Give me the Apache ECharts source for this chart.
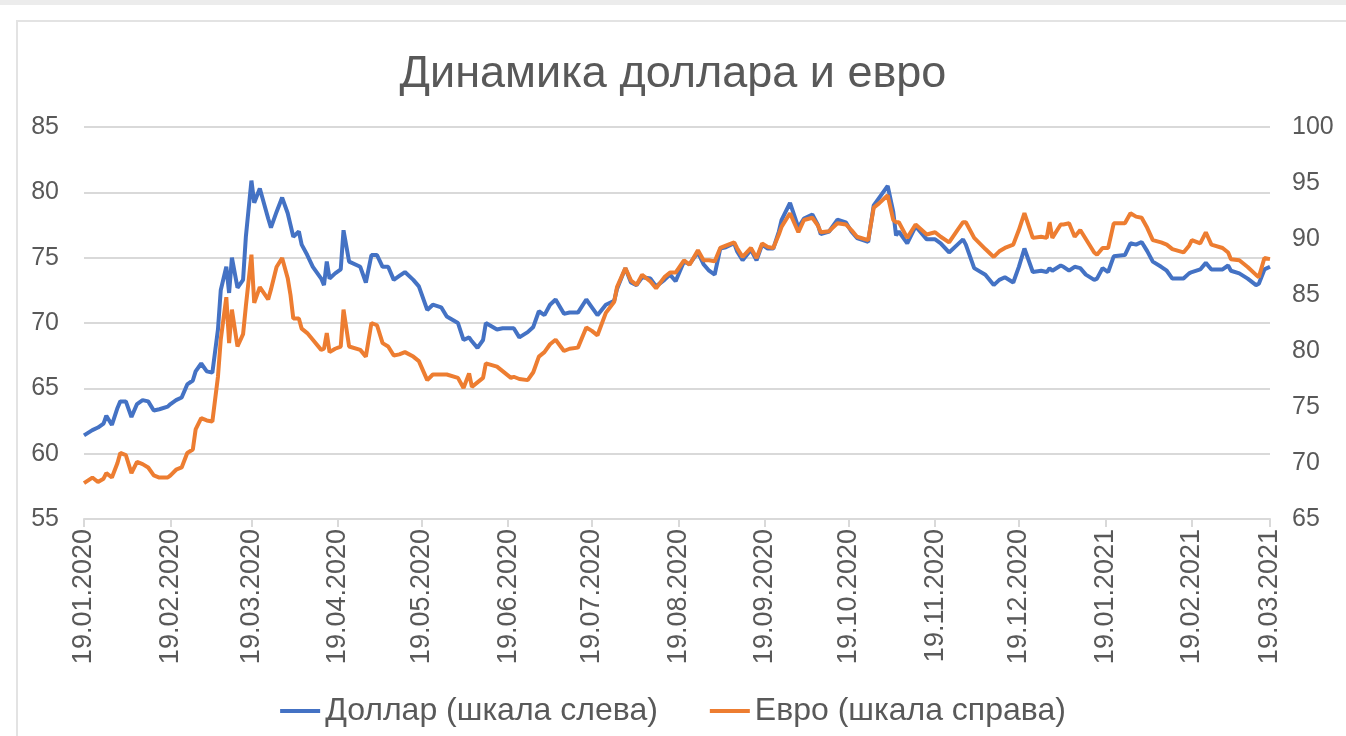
<!DOCTYPE html>
<html>
<head>
<meta charset="utf-8">
<script src="https://cdn.jsdelivr.net/npm/echarts@6/dist/echarts.min.js"></script>
<style>
html,body{margin:0;padding:0;background:#fff;}
#chart{width:1346px;height:736px;}
</style>
</head>
<body>
<div id="chart"></div>
<script>
// ---- data ----
const title = 'Динамика доллара и евро';
const usdName = 'Доллар (шкала слева)';
const eurName = 'Евро (шкала справа)';
const tickLabels = ['19.01.2020','19.02.2020','19.03.2020','19.04.2020','19.05.2020','19.06.2020','19.07.2020','19.08.2020','19.09.2020','19.10.2020','19.11.2020','19.12.2020','19.01.2021','19.02.2021','19.03.2021'];
const leftTicks = [55, 60, 65, 70, 75, 80, 85];
const rightTicks = [65, 70, 75, 80, 85, 90, 95, 100];

const dates = [
'19.01.2020','22.01.2020','24.01.2020','26.01.2020','27.01.2020','29.01.2020','31.01.2020','01.02.2020','03.02.2020','05.02.2020',
'07.02.2020','09.02.2020','11.02.2020','13.02.2020','15.02.2020','18.02.2020','19.02.2020','21.02.2020','23.02.2020','25.02.2020',
'27.02.2020','28.02.2020','01.03.2020','03.03.2020','05.03.2020','07.03.2020','08.03.2020','10.03.2020','11.03.2020','12.03.2020',
'14.03.2020','16.03.2020','17.03.2020','19.03.2020','20.03.2020','22.03.2020','25.03.2020','26.03.2020','28.03.2020','30.03.2020',
'01.04.2020','02.04.2020','03.04.2020','05.04.2020','06.04.2020','08.04.2020','10.04.2020','13.04.2020','14.04.2020','15.04.2020',
'16.04.2020','18.04.2020','20.04.2020','21.04.2020','23.04.2020','27.04.2020','29.04.2020','01.05.2020','03.05.2020','05.05.2020',
'07.05.2020','09.05.2020','11.05.2020','13.05.2020','16.05.2020','18.05.2020','21.05.2020','23.05.2020','26.05.2020','28.05.2020',
'01.06.2020','03.06.2020','05.06.2020','06.06.2020','08.06.2020','10.06.2020','11.06.2020','15.06.2020','17.06.2020','20.06.2020',
'21.06.2020','23.06.2020','26.06.2020','28.06.2020','30.06.2020','02.07.2020','04.07.2020','06.07.2020','09.07.2020','11.07.2020',
'14.07.2020','17.07.2020','19.07.2020','21.07.2020','24.07.2020','27.07.2020','28.07.2020','31.07.2020','02.08.2020','04.08.2020',
'06.08.2020','09.08.2020','11.08.2020','14.08.2020','16.08.2020','18.08.2020','21.08.2020','23.08.2020','26.08.2020','28.08.2020',
'30.08.2020','01.09.2020','03.09.2020','05.09.2020','08.09.2020','09.09.2020','11.09.2020','14.09.2020','16.09.2020','18.09.2020',
'20.09.2020','22.09.2020','24.09.2020','25.09.2020','28.09.2020','01.10.2020','03.10.2020','06.10.2020','08.10.2020','09.10.2020',
'12.10.2020','15.10.2020','18.10.2020','20.10.2020','22.10.2020','26.10.2020','28.10.2020','30.10.2020','02.11.2020','04.11.2020',
'05.11.2020','06.11.2020','09.11.2020','12.11.2020','16.11.2020','19.11.2020','21.11.2020','24.11.2020','27.11.2020','29.11.2020',
'30.11.2020','03.12.2020','07.12.2020','10.12.2020','12.12.2020','14.12.2020','17.12.2020','19.12.2020','21.12.2020','24.12.2020',
'27.12.2020','29.12.2020','30.12.2020','31.12.2020','03.01.2021','04.01.2021','06.01.2021','08.01.2021','10.01.2021','12.01.2021',
'15.01.2021','16.01.2021','18.01.2021','20.01.2021','22.01.2021','26.01.2021','28.01.2021','30.01.2021','01.02.2021','03.02.2021',
'05.02.2021','08.02.2021','10.02.2021','12.02.2021','16.02.2021','18.02.2021','19.02.2021','22.02.2021','24.02.2021','26.02.2021',
'02.03.2021','04.03.2021','05.03.2021','08.03.2021','11.03.2021','14.03.2021','15.03.2021','17.03.2021','19.03.2021'
];

const usd = [
61.4,61.8,62.0,62.3,62.9,62.2,63.5,64.0,64.0,62.8,
63.8,64.1,64.0,63.3,63.4,63.6,63.8,64.1,64.3,65.3,
65.6,66.3,66.9,66.3,66.2,69.5,72.5,74.3,72.3,75.0,
72.7,73.3,76.6,80.9,79.2,80.3,78.0,77.3,78.5,79.6,
78.4,77.5,76.6,77.0,76.0,75.2,74.3,73.4,72.9,74.7,
73.4,73.8,74.1,77.1,74.7,74.3,73.1,75.2,75.2,74.3,
74.3,73.3,73.6,73.9,73.3,72.8,71.0,71.4,71.2,70.5,
70.0,68.7,68.9,68.6,68.1,68.7,70.0,69.5,69.6,69.6,
69.6,68.9,69.3,69.7,70.9,70.6,71.4,71.8,70.7,70.8,
70.8,71.8,71.2,70.6,71.4,71.7,72.6,74.2,73.1,72.9,
73.5,73.4,72.8,73.3,73.7,73.2,74.7,74.5,75.4,74.5,
74.0,73.7,75.7,75.8,76.1,75.5,74.8,75.6,74.8,76.0,
75.7,75.7,77.0,77.9,79.2,77.3,78.0,78.3,77.5,76.8,
77.0,77.9,77.7,77.0,76.5,76.2,79.0,79.6,80.5,78.5,
76.7,77.0,76.1,77.4,76.4,76.4,76.1,75.4,76.0,76.4,
76.0,74.2,73.7,72.9,73.3,73.5,73.1,74.3,75.7,73.9,
74.0,73.9,74.2,74.0,74.4,74.3,74.0,74.3,74.2,73.7,
73.3,73.4,74.2,73.9,75.1,75.2,76.1,76.0,76.2,75.5,
74.7,74.3,74.0,73.4,73.4,73.8,73.9,74.1,74.6,74.1,
74.1,74.4,74.0,73.8,73.4,72.9,73.0,74.1,74.3
];

const eur = [
68.2,68.7,68.3,68.6,69.1,68.7,70.0,70.9,70.7,69.1,
70.1,69.9,69.6,68.9,68.7,68.7,68.9,69.4,69.6,70.9,
71.2,73.0,74.0,73.8,73.7,77.7,81.0,84.8,80.7,83.7,
80.4,81.5,84.0,88.6,84.3,85.7,84.6,85.5,87.5,88.3,
86.5,85.0,82.9,82.9,82.0,81.6,81.0,80.1,80.2,81.6,
79.9,80.2,80.4,83.7,80.4,80.1,79.5,82.5,82.3,80.7,
80.4,79.6,79.7,79.9,79.5,79.1,77.4,77.9,77.9,77.9,
77.6,76.7,78.0,76.8,77.2,77.6,78.9,78.6,78.2,77.6,
77.7,77.5,77.4,78.1,79.5,79.9,80.6,81.0,80.0,80.2,
80.3,82.1,81.8,81.4,83.4,84.4,85.7,87.4,86.3,85.9,
86.8,86.2,85.6,86.6,87.0,87.0,88.1,87.7,89.0,88.1,
88.1,88.0,89.2,89.4,89.7,89.2,88.4,89.2,88.3,89.6,
89.3,89.2,90.4,91.1,92.3,90.6,91.7,91.9,91.2,90.6,
90.7,91.4,91.3,90.8,90.2,89.9,92.8,93.2,93.9,91.7,
91.5,91.5,90.1,91.3,90.4,90.6,90.2,89.7,90.8,91.5,
91.5,90.1,89.1,88.4,88.9,89.2,89.5,90.8,92.3,90.1,
90.2,90.1,91.5,90.1,91.3,91.3,91.4,90.2,90.8,90.0,
88.8,88.6,89.2,89.2,91.4,91.4,92.3,92.0,91.9,91.0,
89.9,89.7,89.5,89.1,88.8,89.4,89.9,89.6,90.6,89.5,
89.2,88.8,88.2,88.1,87.5,86.8,86.6,88.3,88.2
];

// ---- daily category axis from first to last tick label ----
function pad(n){return (n<10?'0':'')+n;}
function parseD(s){const p=s.split('.');return new Date(Date.UTC(+p[2],+p[1]-1,+p[0]));}
function fmt(d){return pad(d.getUTCDate())+'.'+pad(d.getUTCMonth()+1)+'.'+d.getUTCFullYear();}
const days = [];
for (let t = parseD(tickLabels[0]).getTime(); t <= parseD(tickLabels[tickLabels.length-1]).getTime(); t += 86400000) {
  days.push(fmt(new Date(t)));
}
const tickSet = new Set(tickLabels);
const isTick = (i, v) => tickSet.has(v !== undefined ? v : days[i]);
const idx = {};
days.forEach((d,i)=>{idx[d]=i;});

const usdData = dates.map((d,i)=>[idx[d], usd[i]]);
const eurData = dates.map((d,i)=>[idx[d], eur[i]]);

const txt = '#595959';
const grid = '#d9d9d9';
const font = '"Liberation Sans", Arial, sans-serif';

const chart = echarts.init(document.getElementById('chart'), null, {renderer:'canvas'});
chart.setOption({
  animation: false,
  backgroundColor: '#ffffff',
  graphic: [
    {type:'rect', shape:{x:0,y:0,width:1346,height:5}, style:{fill:'#ececec'}, z:-10},
    {type:'rect', shape:{x:17,y:21,width:1400,height:800}, style:{fill:'none', stroke:'#e3e3e3', lineWidth:2}, z:-10}
  ],
  title: {
    text: title,
    left: 'center',
    top: 47,
    textStyle: {color: txt, fontSize: 45, fontWeight: 'normal', fontFamily: font}
  },
  legend: {
    bottom: 4,
    left: 'center',
    itemWidth: 40,
    itemHeight: 4,
    itemGap: 52,
    icon: 'rect',
    textStyle: {color: txt, fontSize: 32, fontFamily: font},
    data: [usdName, eurName]
  },
  grid: {left: 84, right: 76, top: 127, bottom: 217, containLabel: false},
  xAxis: {
    type: 'category',
    boundaryGap: false,
    data: days,
    axisLine: {lineStyle: {color: grid, width: 2}},
    axisTick: {show: true, interval: isTick, length: 8, lineStyle: {color: grid, width: 2}},
    axisLabel: {interval: isTick, rotate: 90, color: txt, fontSize: 27, fontFamily: font, margin: 10},
    splitLine: {show: false}
  },
  yAxis: [
    {
      type: 'value', min: leftTicks[0], max: leftTicks[leftTicks.length-1], interval: 5,
      axisLine: {show: false}, axisTick: {show: false},
      axisLabel: {color: txt, fontSize: 25, fontFamily: font, margin: 25},
      splitLine: {show: true, lineStyle: {color: grid, width: 2}}
    },
    {
      type: 'value', min: rightTicks[0], max: rightTicks[rightTicks.length-1], interval: 5,
      axisLine: {show: false}, axisTick: {show: false},
      axisLabel: {color: txt, fontSize: 25, fontFamily: font, margin: 22},
      splitLine: {show: false}
    }
  ],
  series: [
    {name: usdName, type: 'line', yAxisIndex: 0, data: usdData, showSymbol: false, symbol: 'none',
     lineStyle: {color: '#4472C4', width: 4}, itemStyle: {color: '#4472C4'}, z: 2},
    {name: eurName, type: 'line', yAxisIndex: 1, data: eurData, showSymbol: false, symbol: 'none',
     lineStyle: {color: '#ED7D31', width: 4}, itemStyle: {color: '#ED7D31'}, z: 3}
  ]
});
</script>
</body>
</html>
